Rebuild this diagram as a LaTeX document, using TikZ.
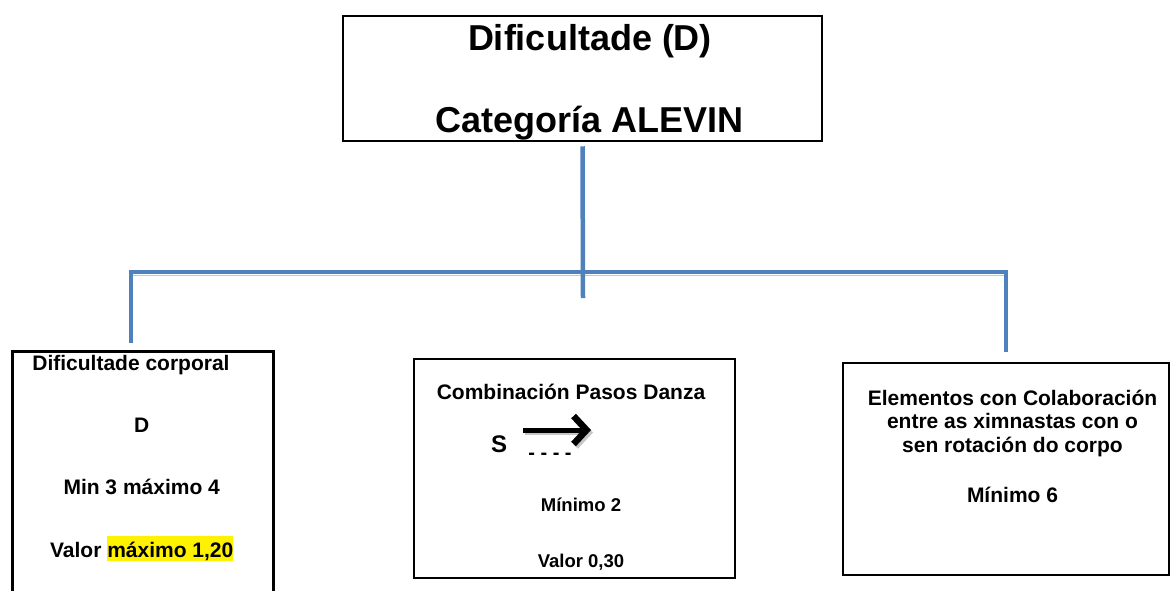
\documentclass[tikz,border=0pt]{standalone}
\usepackage{fontspec}
\setmainfont{Liberation Sans}
\usetikzlibrary{arrows.meta}
\definecolor{ramablue}{RGB}{79,129,189}
\newcommand{\resaltar}[1]{{\setlength{\fboxsep}{0pt}\colorbox{yellow}{\rule[-4pt]{0pt}{25pt}#1}}}
\begin{document}
\begin{tikzpicture}[x=1pt,y=-1pt,
    caixa/.style={draw=black,line width=2.5pt,inner sep=0pt},
    texto/.style={anchor=base,inner sep=0pt,align=center,font=\bfseries\fontsize{21}{23.5}\selectfont},
    rama/.style={draw=ramablue,line width=4.5pt,line join=miter},
    sombra/.style={draw=gray!45,line width=1.6pt},
    frecha/.style={line width=5pt,-{Straight Barb[length=13pt,width=28pt,line width=6.5pt]}}]
    \fill[white] (0,0) rectangle (1171,590);
    \useasboundingbox (0,0) rectangle (1171,590);
    \clip (0,0) rectangle (1171,590);
    % boxes
    \node[caixa,minimum width=479,minimum height=125] (dif) at (582.5,78.5) {};
    \node[caixa,minimum width=261,minimum height=300,anchor=north west] (corp) at (11,350) {};
    \node[caixa,line width=2pt,minimum width=321,minimum height=219] (danza) at (574.5,468.5) {};
    \node[caixa,line width=2pt,minimum width=326,minimum height=212] (colab) at (1006,469) {};
    % texts (base = last line)
    \node[texto,font=\bfseries\fontsize{36}{82}\selectfont] (titulo) at (590,132) {Dificultade (D)\\Categoría ALEVIN};
    \node[texto] (corpT) at (131,370) {Dificultade corporal};
    \node[texto,font=\bfseries\fontsize{21}{62.5}\selectfont] (corpV) at (141.7,557) {D\\Min 3 máximo 4\\Valor \resaltar{máximo 1,20}};
    \node[texto] (danzaT) at (571,399) {Combinación Pasos Danza};
    \node[texto,font=\bfseries\fontsize{24}{26}\selectfont] (ese) at (499,452) {S};
    \node[texto,font=\bfseries\fontsize{20}{20}\selectfont] (trazos) at (550,459) {- - - -};
    \node[texto,font=\bfseries\fontsize{18.5}{56}\selectfont] (danzaV) at (581,567) {Mínimo 2\\Valor 0,30};
    \node[texto] (colabT) at (1012.5,452) {Elementos con Colaboración\\entre as ximnastas con o\\sen rotación do corpo};
    \node[texto] (colabV) at (1012.5,502) {Mínimo 6};
    % arrow S
    \coordinate (arrA) at (523,430);
    \coordinate (arrB) at (591,430);
    \draw[frecha,gray!45] ([xshift=2pt,yshift=-2.5pt]arrA) -- ([xshift=2pt,yshift=-2.5pt]arrB);
    \draw[frecha,black] (arrA) -- (arrB);
    % connectors
    \coordinate (barL) at (131,272);
    \coordinate (barR) at (1006,272);
    \coordinate (legL) at (131,343);
    \coordinate (legR) at (1006,352);
    \coordinate (stub) at (583,298);
    \draw[sombra] ([yshift=-3.5pt]barL) -- ([yshift=-3.5pt]barR);
    \draw[rama] (legL) -- (barL) -- (barR) -- (legR);
    \draw[rama,shorten <=4pt] (dif.south) -- (stub);
\end{tikzpicture}
\end{document}
